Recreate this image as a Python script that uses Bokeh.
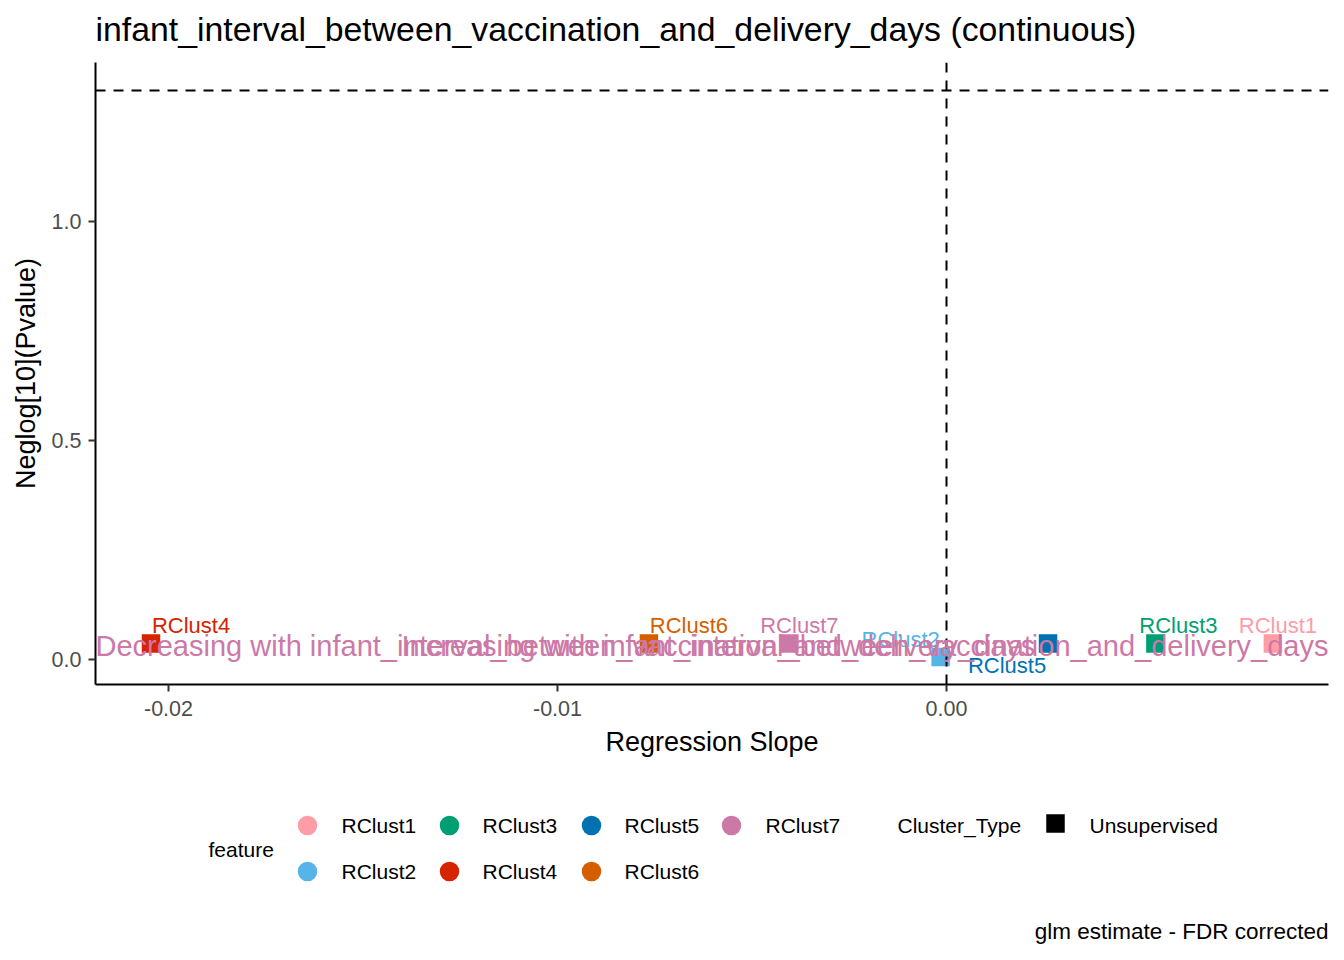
from bokeh.plotting import figure
from bokeh.layouts import column
from bokeh.models import (Range1d, FixedTicker, NumeralTickFormatter, Span,
                          ColumnDataSource, Label)
from bokeh.core.properties import value
from bokeh.embed import file_html
from bokeh.resources import INLINE

# ---------------- data ----------------
features = ["RClust1", "RClust2", "RClust3", "RClust4", "RClust5", "RClust6", "RClust7"]
slopes = [0.00839, -0.00015, 0.00537, -0.02045, 0.00261, -0.00765, -0.00404]
neglog_p = [0.036, 0.005, 0.036, 0.036, 0.036, 0.036, 0.036]
feature_colors = ["#FF9DA7", "#56B4E9", "#009E73", "#D62300", "#0072B2", "#D55E00", "#CC79A7"]
cluster_types = ["Unsupervised"]
x_ticks = [-0.02, -0.01, 0.0]
y_ticks = [0.0, 0.5, 1.0]
fdr_threshold = 1.30103  # -log10(0.05)
title_text = "infant_interval_between_vaccination_and_delivery_days (continuous)"
var_name = "infant_interval_between_vaccination_and_delivery_days"
caption_text = "glm estimate - FDR corrected"

# label offsets (pixels) mimicking the repelled labels
label_dx = [5, -40, 23, 40, -41, 40, 10]
label_dy = [-18, -18, -18, -18, 22, -18, -18]

FONT = "Liberation Sans"
W = 1344
TITLE_H = 62
MAIN_H = 718
LEG_H = 176
FRAME_L, FRAME_R = 95, 1328


def blank_panel(top, height):
    """A figure whose frame uses page-pixel coordinates (x 95..1328, y downwards)."""
    f = figure(width=W, height=height, output_backend="svg", toolbar_location=None,
               x_range=Range1d(FRAME_L, FRAME_R), y_range=Range1d(top + height, top),
               min_border_left=FRAME_L, min_border_right=W - FRAME_R,
               min_border_top=0, min_border_bottom=0)
    f.axis.visible = False
    f.xgrid.visible = False
    f.ygrid.visible = False
    f.outline_line_color = None
    f.title.visible = False
    return f


# ---------------- title panel ----------------
tp = blank_panel(0, TITLE_H)
tp.text(x=[FRAME_L], y=[28.5], text=[title_text], text_font=value(FONT),
        text_font_size="33.8px", text_baseline="alphabetic", text_align="left",
        text_color="black")

# ---------------- main figure ----------------
p = figure(width=W, height=MAIN_H, output_backend="svg", toolbar_location=None,
           x_range=Range1d(-0.021877, 0.00982), y_range=Range1d(-0.0579, 1.3648),
           min_border_left=FRAME_L, min_border_right=W - FRAME_R, min_border_top=0,
           min_border_bottom=96)
p.title.visible = False
p.outline_line_color = None
p.xgrid.visible = False
p.ygrid.visible = False
p.background_fill_color = "white"
p.border_fill_color = "white"

for ax in (p.xaxis[0], p.yaxis[0]):
    ax.axis_line_color = "black"
    ax.axis_line_width = 2
    ax.major_tick_line_color = "#333333"
    ax.major_tick_line_width = 2
    ax.major_tick_out = 7
    ax.major_tick_in = 0
    ax.minor_tick_line_color = None
    ax.major_label_text_font = FONT
    ax.major_label_text_font_size = "21.5px"
    ax.major_label_text_color = "#4D4D4D"
    ax.axis_label_text_font = FONT
    ax.axis_label_text_font_size = "27px"
    ax.axis_label_text_font_style = "normal"
    ax.axis_label_text_color = "black"

p.xaxis.ticker = FixedTicker(ticks=x_ticks)
p.xaxis.formatter = NumeralTickFormatter(format="0.00")
p.xaxis.axis_label = "Regression Slope"
p.xaxis.major_label_standoff = 9
p.xaxis.axis_label_standoff = 8

p.yaxis.ticker = FixedTicker(ticks=y_ticks)
p.yaxis.formatter = NumeralTickFormatter(format="0.0")
p.yaxis.axis_label = "Neglog[10](Pvalue)"
p.yaxis.major_label_standoff = 7
p.yaxis.axis_label_standoff = 8

p.add_layout(Span(location=fdr_threshold, dimension="width", line_color="black",
                  line_dash="10 8", line_width=2))
p.add_layout(Span(location=0, dimension="height", line_color="black",
                  line_dash="10 8", line_width=2))

src = ColumnDataSource(dict(x=slopes, y=neglog_p, feature=features, color=feature_colors,
                            dx=label_dx, dy=label_dy))
p.scatter("x", "y", source=src, marker="square", size=18.5, fill_color="color",
          line_color="color", line_width=0)
p.text("x", "y", text="feature", source=src, text_color="color", text_font=value(FONT),
       text_font_size="22px", text_align="center", text_baseline="middle",
       x_offset="dx", y_offset="dy")

# direction annotations
ann_y = 0.03
p.add_layout(Label(x=p.x_range.start, y=ann_y, text="Decreasing with " + var_name,
                   text_font=FONT, text_font_size="29px", text_color="#CC79A7",
                   text_align="left", text_baseline="middle"))
p.add_layout(Label(x=p.x_range.end, y=ann_y, text="Increasing with " + var_name,
                   text_font=FONT, text_font_size="29px", text_color="#CC79A7",
                   text_align="right", text_baseline="middle"))

# ---------------- legend / caption panel (page pixel coordinates) ----------------
leg = blank_panel(TITLE_H + MAIN_H, LEG_H)

col_sw = [307, 449, 591, 731]
col_lab = [341, 482, 624, 765]
row_y = [825, 871]
sw_x, sw_y, lab_x = [], [], []
for i in range(len(features)):
    c, r = divmod(i, 2)
    sw_x.append(col_sw[c]); sw_y.append(row_y[r]); lab_x.append(col_lab[c])
lsrc = ColumnDataSource(dict(x=sw_x, y=sw_y, lx=lab_x, color=feature_colors, feature=features))
leg.scatter("x", "y", source=lsrc, marker="circle", size=19.5, fill_color="color", line_width=0)
leg.text("lx", "y", text="feature", source=lsrc, text_font=value(FONT), text_font_size="21px",
         text_baseline="middle", text_align="left", text_color="black")
leg.text(x=[208], y=[849], text=["feature"], text_font=value(FONT), text_font_size="21px",
         text_baseline="middle", text_align="left", text_color="black")
leg.text(x=[897], y=[825], text=["Cluster_Type"], text_font=value(FONT), text_font_size="21px",
         text_baseline="middle", text_align="left", text_color="black")
leg.scatter(x=[1055], y=[823], marker="square", size=18.5, fill_color="black", line_width=0)
leg.text(x=[1089], y=[825], text=cluster_types, text_font=value(FONT),
         text_font_size="21px", text_baseline="middle", text_align="left", text_color="black")
leg.text(x=[1328], y=[931], text=[caption_text], text_font=value(FONT), text_font_size="22.5px",
         text_baseline="middle", text_align="right", text_color="black")

layout = column(tp, p, leg, spacing=0)
open("out.html", "w").write(file_html(layout, INLINE))
